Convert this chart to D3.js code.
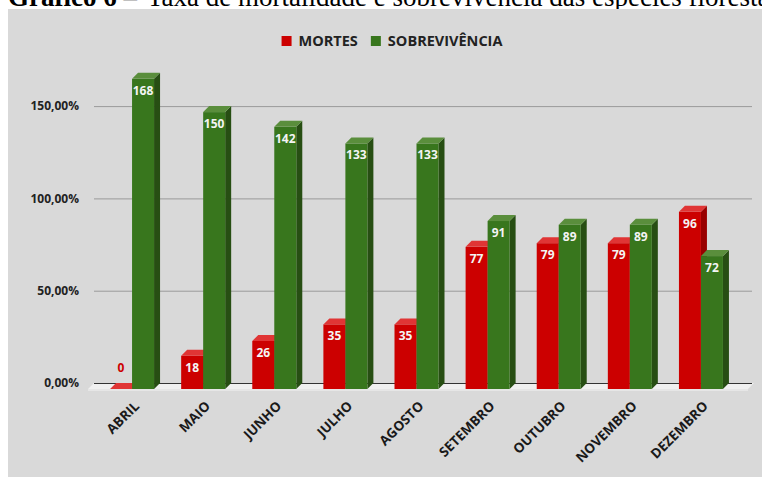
<!DOCTYPE html>
<html>
<head>
<meta charset="utf-8">
<style>
  body { margin: 0; background: #fff; }
  svg { display: block; }
  .chart text { font-family: "Open Sans", Roboto, Arial, sans-serif; font-weight: bold; }
  .chart text.title { font-family: "Liberation Serif", "Times New Roman", serif; font-size: 27px; font-weight: normal; fill: #000; }
</style>
<script src="https://cdn.jsdelivr.net/npm/d3@7"></script>
</head>
<body>
<svg id="chart" class="chart" width="762" height="477"></svg>
<script>
const months = ['ABRIL', 'MAIO', 'JUNHO', 'JULHO', 'AGOSTO', 'SETEMBRO', 'OUTUBRO', 'NOVEMBRO', 'DEZEMBRO'];
const mortes = [0, 18, 26, 35, 35, 77, 79, 79, 96];
const sobrevivencia = [168, 150, 142, 133, 133, 91, 89, 89, 72];
const seriesNames = ['MORTES', 'SOBREVIVÊNCIA'];
const yTicks = [0, 50, 100, 150];

const svg = d3.select('#chart');
const dx = 6, dy = 6;           // depth of the 3d effect
const base = 389;               // front baseline
const barW = 22;

const colors = {
  'MORTES': { front: '#cc0000', top: '#e03535', side: '#990000', label: '#cc0000' },
  'SOBREVIVÊNCIA': { front: '#38761d', top: '#5a8e3c', side: '#274e13', label: '#38761d' }
};

// title, mostly cut off by the top of the picture
const title = svg.append('text').attr('class', 'title').attr('x', 8).attr('y', 6);
title.append('tspan').attr('font-weight', 'bold').text('Gráfico 6');
title.append('tspan').text(' – ');
svg.append('text').attr('class', 'title').attr('x', 147).attr('y', 6)
  .text('Taxa de mortalidade e sobrevivência das espécies florestais');

// grey panel
svg.append('rect').attr('x', 8).attr('y', 9).attr('width', 754).attr('height', 468).attr('fill', '#d9d9d9');

// scales
let y = d3.scaleLinear().domain([0, 150]).range([base, base - 150 * 1.846]);
let yBack = y.copy().range(y.range().map(v => v - dy));
let x = d3.scaleBand().domain(months).range([96.5, 736.5]);
let xs = d3.scaleBand().domain(seriesNames).range([0, barW * 2]);

// floor
svg.append('polygon')
  .attr('points', [[88, base], [748, base], [748 + dx, base - dy], [88 + dx, base - dy]].join(' '))
  .attr('fill', '#f0f0f0');
svg.append('rect').attr('x', 88).attr('y', base).attr('width', 660).attr('height', 2).attr('fill', '#e6e6e6');

// y axis + gridlines on back wall
const ptBR = d3.formatLocale({ decimal: ',', thousands: '.', grouping: [3], currency: ['R$', ''] });
const fmt = ptBR.format('.2f');
const yAxis = svg.append('g')
  .attr('transform', 'translate(94,0)')
  .call(d3.axisLeft(yBack).tickValues(yTicks).tickSize(-658).tickPadding(15).tickFormat(d => fmt(d) + '%'));
yAxis.select('.domain').remove();
yAxis.selectAll('line').attr('stroke', d => d === 0 ? '#333' : '#9a9a9a');
yAxis.selectAll('text').attr('font-size', 12).attr('fill', '#222');

// bars
const rows = months.map((m, i) => ({ month: m, values: [mortes[i], sobrevivencia[i]] }));

const groups = svg.selectAll('g.month').data(rows).enter().append('g')
  .attr('class', 'month')
  .attr('transform', d => 'translate(' + (x(d.month) + x.bandwidth() / 2 - barW) + ',0)');

groups.each(function (d) {
  const g = d3.select(this);
  seriesNames.forEach((s, k) => {
    const v = d.values[k];
    const x0 = xs(s);
    const yt = y(v);
    const c = colors[s];
    g.append('polygon')
      .attr('points', [[x0 + barW, yt], [x0 + barW + dx, yt - dy], [x0 + barW + dx, base - dy], [x0 + barW, base]].join(' '))
      .attr('fill', c.side);
    g.append('rect').attr('x', x0).attr('y', yt).attr('width', barW).attr('height', base - yt).attr('fill', c.front);
    g.append('polygon')
      .attr('points', [[x0, yt], [x0 + dx, yt - dy], [x0 + barW + dx, yt - dy], [x0 + barW, yt]].join(' '))
      .attr('fill', c.top);
  });
});

// value labels
groups.each(function (d) {
  const g = d3.select(this);
  seriesNames.forEach((s, k) => {
    const v = d.values[k];
    g.append('text')
      .attr('x', xs(s) + barW / 2)
      .attr('y', v > 0 ? y(v) + 16 : base - 17)
      .attr('text-anchor', 'middle')
      .attr('font-size', 12)
      .attr('fill', v > 0 ? '#f4f4f4' : colors[s].label)
      .text(v);
  });
});

// x axis labels
const xAxis = svg.append('g')
  .attr('transform', 'translate(0,' + base + ')')
  .call(d3.axisBottom(x).tickSize(0).tickPadding(0));
xAxis.select('.domain').remove();
xAxis.selectAll('text')
  .attr('y', 0).attr('dy', 0)
  .attr('transform', 'translate(8,18) rotate(-45)')
  .attr('text-anchor', 'end')
  .attr('font-size', 13.5)
  .attr('fill', '#1a1a1a');

// legend
const legend = svg.append('g');
let lx = 0;
seriesNames.forEach(s => {
  const item = legend.append('g').attr('transform', 'translate(' + lx + ',0)');
  item.append('rect').attr('x', 0).attr('y', -5).attr('width', 10).attr('height', 10).attr('fill', colors[s].front);
  const t = item.append('text').attr('x', 17).attr('dy', '0.35em').attr('font-size', 14.5).attr('fill', '#222').text(s);
  lx += 17 + t.node().getComputedTextLength() + 13;
});
lx -= 13;
legend.attr('transform', 'translate(' + (392 - lx / 2) + ',41)');
</script>
</body>
</html>
